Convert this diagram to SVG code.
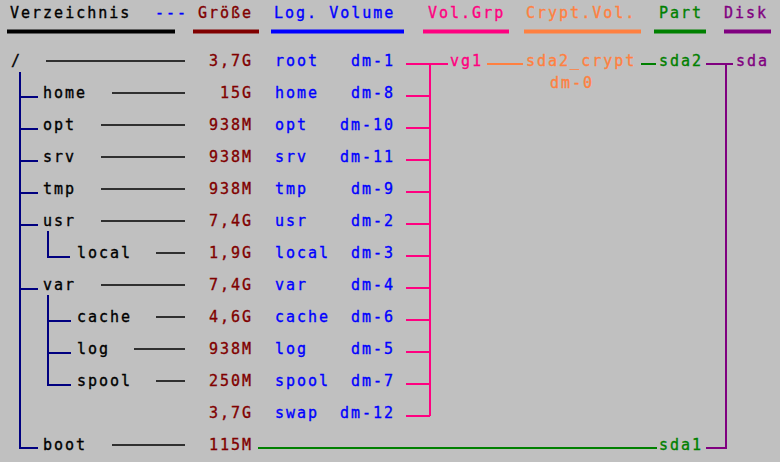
<svg xmlns="http://www.w3.org/2000/svg" width="780" height="462" viewBox="0 0 780 462">
<style>
text{font-family:"DejaVu Sans Mono","Liberation Mono",monospace;font-size:15px;letter-spacing:2px;stroke-width:0.35}
.k{fill:#000;stroke:#000}.r{fill:#800000;stroke:#800000}.b{fill:#0000ff;stroke:#0000ff}.p{fill:#ff0080;stroke:#ff0080}.o{fill:#ff8040;stroke:#ff8040}.g{fill:#008000;stroke:#008000}.v{fill:#800080;stroke:#800080}
.ul{stroke-width:4;fill:none}
.thin{stroke:#000;stroke-width:1.3;fill:none}
.tree{stroke:#000080;stroke-width:2;fill:none}
.pk{stroke:#ff0080;stroke-width:2;fill:none}
.og{stroke:#ff8040;stroke-width:2;fill:none}
.gn{stroke:#008000;stroke-width:2;fill:none}
.pu{stroke:#800080;stroke-width:2;fill:none}
</style>
<rect width="780" height="462" fill="#c0c0c0"/>
<g id="header">
<text x="10" y="18" class="k">Verzeichnis</text>
<text x="155" y="18" class="b">---</text>
<text x="198" y="18" class="r">Größe</text>
<text x="274" y="18" class="b">Log. Volume</text>
<text x="428" y="18" class="p">Vol.Grp</text>
<text x="526" y="18" class="o">Crypt.Vol.</text>
<text x="659" y="18" class="g">Part</text>
<text x="724" y="18" class="v">Disk</text>
<line x1="7" y1="31.5" x2="175" y2="31.5" class="ul" stroke="#000"/>
<line x1="193" y1="31.5" x2="259" y2="31.5" class="ul" stroke="#800000"/>
<line x1="271" y1="31.5" x2="404" y2="31.5" class="ul" stroke="#0000ff"/>
<line x1="423" y1="31.5" x2="509" y2="31.5" class="ul" stroke="#ff0080"/>
<line x1="524" y1="31.5" x2="641" y2="31.5" class="ul" stroke="#ff8040"/>
<line x1="654" y1="31.5" x2="706" y2="31.5" class="ul" stroke="#008000"/>
<line x1="724" y1="31.5" x2="771" y2="31.5" class="ul" stroke="#800080"/>
</g>
<g id="connectors">
<path class="tree" d="M20 72V448H38M20 97H38M20 129H38M20 161H38M20 193H38M20 225H38M20 289H38"/>
<path class="tree" d="M48 231V257H70M48 295V385H71M48 321H71M48 353H71"/>
<path class="thin" d="M46 61H185M112 93H185M101 125H185M101 157H185M101 189H185M101 221H185M156 253H185M101 285H185M156 317H185M134 349H185M156 381H185M112 445H185"/>
<path class="pk" d="M406 64H448M430 64V416M406 96H430M406 128H430M406 160H430M406 192H430M406 224H430M406 256H430M406 288H430M406 320H430M406 352H430M406 384H430M406 416H430"/>
<path class="og" d="M487 64H523"/>
<path class="gn" d="M641 64H656M258 448H657"/>
<path class="pu" d="M706 64H733M726 64V448H706"/>
</g>
<g id="root"><text x="11" y="66" class="k">/</text><text x="209" y="66" class="r">3,7G</text><text x="275" y="66" class="b">root</text><text x="351" y="66" class="b">dm-1</text></g>
<g id="home"><text x="43" y="98" class="k">home</text><text x="220" y="98" class="r">15G</text><text x="275" y="98" class="b">home</text><text x="351" y="98" class="b">dm-8</text></g>
<g id="opt"><text x="43" y="130" class="k">opt</text><text x="209" y="130" class="r">938M</text><text x="275" y="130" class="b">opt</text><text x="340" y="130" class="b">dm-10</text></g>
<g id="srv"><text x="43" y="162" class="k">srv</text><text x="209" y="162" class="r">938M</text><text x="275" y="162" class="b">srv</text><text x="340" y="162" class="b">dm-11</text></g>
<g id="tmp"><text x="43" y="194" class="k">tmp</text><text x="209" y="194" class="r">938M</text><text x="275" y="194" class="b">tmp</text><text x="351" y="194" class="b">dm-9</text></g>
<g id="usr"><text x="43" y="226" class="k">usr</text><text x="209" y="226" class="r">7,4G</text><text x="275" y="226" class="b">usr</text><text x="351" y="226" class="b">dm-2</text></g>
<g id="local"><text x="77" y="258" class="k">local</text><text x="209" y="258" class="r">1,9G</text><text x="275" y="258" class="b">local</text><text x="351" y="258" class="b">dm-3</text></g>
<g id="var"><text x="43" y="290" class="k">var</text><text x="209" y="290" class="r">7,4G</text><text x="275" y="290" class="b">var</text><text x="351" y="290" class="b">dm-4</text></g>
<g id="cache"><text x="77" y="322" class="k">cache</text><text x="209" y="322" class="r">4,6G</text><text x="275" y="322" class="b">cache</text><text x="351" y="322" class="b">dm-6</text></g>
<g id="log"><text x="77" y="354" class="k">log</text><text x="209" y="354" class="r">938M</text><text x="275" y="354" class="b">log</text><text x="351" y="354" class="b">dm-5</text></g>
<g id="spool"><text x="77" y="386" class="k">spool</text><text x="209" y="386" class="r">250M</text><text x="275" y="386" class="b">spool</text><text x="351" y="386" class="b">dm-7</text></g>
<g id="swap"><text x="209" y="418" class="r">3,7G</text><text x="275" y="418" class="b">swap</text><text x="340" y="418" class="b">dm-12</text></g>
<g id="boot"><text x="43" y="450" class="k">boot</text><text x="209" y="450" class="r">115M</text></g>
<g id="vg1"><text x="450" y="66" class="p">vg1</text></g>
<g id="sda2_crypt"><text x="526" y="66" class="o">sda2_crypt</text><text x="550" y="88" class="o">dm-0</text></g>
<g id="sda2"><text x="659" y="66" class="g">sda2</text></g>
<g id="sda1"><text x="659" y="450" class="g">sda1</text></g>
<g id="sda"><text x="736" y="66" class="v">sda</text></g>
</svg>
